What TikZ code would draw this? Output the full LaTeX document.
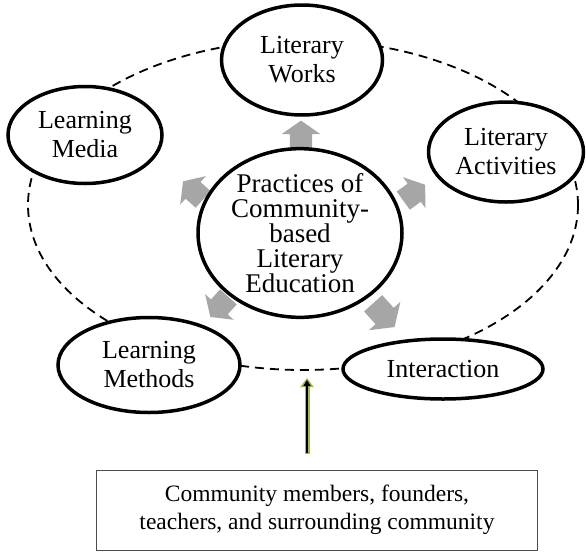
\documentclass[tikz,border=0pt]{standalone}
\usepackage{fontspec}
\setmainfont{Liberation Serif}
\usetikzlibrary{shapes.geometric}
\usetikzlibrary{shapes.arrows}
\usetikzlibrary{arrows.meta}
\definecolor{leaf}{HTML}{9BBB59}
\definecolor{pushgray}{HTML}{A6A6A6}

\begin{document}
\begin{tikzpicture}[x=1pt,y=-1pt,
topic/.style={ellipse,draw,line width=3.5pt,fill=white,inner sep=0pt,
  align=center,font=\fontsize{26}{29}\selectfont},
push/.style={single arrow,fill=pushgray,draw=none,inner xsep=0pt,inner ysep=11pt,
  minimum height=27pt,single arrow head extend=8pt,single arrow tip angle=110}]
\tikzstyle{source}=[rectangle,draw=black!70,line width=1pt,align=center,
  minimum width=441pt,minimum height=80pt,font=\fontsize{23.5}{28}\selectfont]

\useasboundingbox (0,0) rectangle (586,552);

\draw[dashed,line width=1.8pt,dash pattern=on 9pt off 6pt]
  (303,205) ellipse [x radius=275pt,y radius=165pt];

\node[push,rotate=90]  (pw) at (301,138) {};
\node[push,rotate=138] (pm) at (196,193) {};
\node[push,rotate=36]  (pa) at (411,195) {};
\node[push,rotate=228] (pl) at (222,304) {};
\node[push,rotate=312,minimum height=32pt,inner ysep=12pt,single arrow head extend=9pt] (pi) at (381,312) {};

\node[topic,minimum width=204pt,minimum height=136pt,
  font=\fontsize{27}{25}\selectfont] (core) at (300,233)
  {Practices of\\Community-\\based\\Literary\\Education};
\node[topic,minimum width=161pt,minimum height=110pt] (works) at (302,60) {Literary\\Works};
\node[topic,minimum width=154pt,minimum height=97pt] (media) at (85,135) {Learning\\Media};
\node[topic,minimum width=155pt,minimum height=100pt] (act) at (506,152) {Literary\\Activities};
\node[topic,minimum width=182pt,minimum height=95pt] (meth) at (149,365) {Learning\\Methods};
\node[topic,minimum width=200pt,minimum height=60pt] (inter) at (443,369) {Interaction};

\node[source] (box) at (317,510) {Community members, founders,\\teachers, and surrounding community};

\coordinate (tip) at (307,378);
\draw[line width=5pt,leaf,shorten <=16pt,-{Triangle[length=9pt,width=13pt]}]
  (box.north -| tip) -- (tip);
\draw[line width=2.2pt,black,shorten <=17pt,shorten >=2pt,-{Triangle[length=6pt,width=7pt]}]
  (box.north -| tip) -- (tip);
\end{tikzpicture}
\end{document}
